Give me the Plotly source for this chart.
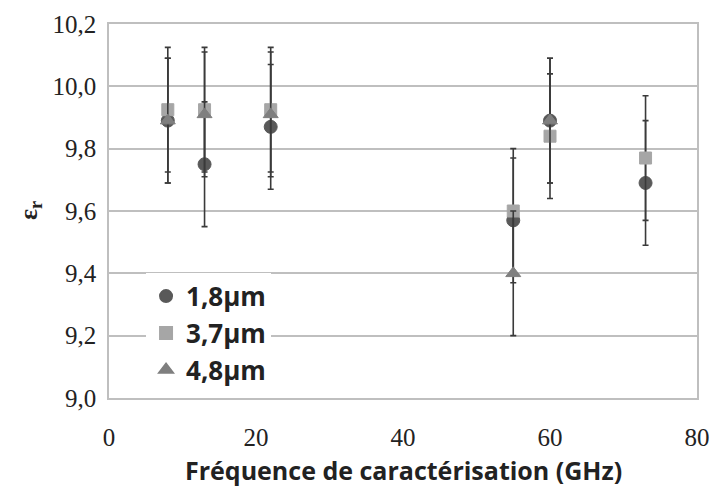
import plotly.graph_objects as go

freq = [8, 13, 22, 55, 60, 73]
eps_18 = [9.89, 9.75, 9.87, 9.57, 9.89, 9.69]
eps_37 = [9.925, 9.925, 9.925, 9.60, 9.84, 9.77]
eps_48 = [9.89, 9.91, 9.91, 9.40, 9.89, None]
err_18 = [0.2, 0.2, 0.2, 0.2, 0.2, 0.2]
err_37 = [0.2, 0.2, 0.2, 0.2, 0.2, 0.2]
err_48 = [0.2, 0.2, 0.2, 0.2, 0.2, 0.2]
names = ["1,8µm", "3,7µm", "4,8µm"]
y_ticks = [9.0, 9.2, 9.4, 9.6, 9.8, 10.0, 10.2]
y_tick_text = ["9,0", "9,2", "9,4", "9,6", "9,8", "10,0", "10,2"]
x_ticks = [0, 20, 40, 60, 80]
x_title = "Fréquence de caractérisation (GHz)"
y_title = "ε<sub>r</sub>"

fig = go.Figure()
series = [
    (eps_18, err_18, names[0], "circle", "#595959", 13),
    (eps_37, err_37, names[1], "square", "#a6a6a6", 12),
    (eps_48, err_48, names[2], "triangle-up", "#7f7f7f", 13),
]
for vals, err, name, sym, col, sz in series:
    fig.add_trace(go.Scatter(
        x=freq, y=vals, name=name, mode="markers",
        marker=dict(symbol=sym, color=col, size=sz, line=dict(color=col, width=1)),
        error_y=dict(type="data", array=err, visible=True, color="#3a3a3a",
                     thickness=1.6, width=3),
    ))

fig.update_layout(
    width=713, height=490,
    margin=dict(l=109, r=16, t=24, b=92),
    paper_bgcolor="white", plot_bgcolor="white",
    showlegend=True,
    legend=dict(
        x=0.063, y=0.335, xanchor="left", yanchor="top",
        bgcolor="white", borderwidth=0,
        font=dict(family="Open Sans", size=26, color="#222222", weight="bold"),
        tracegroupgap=0, itemsizing="constant",
    ),
    xaxis=dict(
        range=[0, 80], tickvals=x_ticks, showgrid=False, zeroline=False,
        showline=True, linecolor="#bfbfbf", linewidth=1.5, mirror=True,
        ticks="outside", ticklen=16, tickcolor="rgba(0,0,0,0)",
        ticklabeloverflow="allow", automargin=False,
        tickfont=dict(family="Liberation Serif", size=25, color="#222222"),
    ),
    yaxis=dict(
        range=[9.0, 10.2], tickvals=y_ticks, ticktext=y_tick_text,
        showgrid=True, gridcolor="#bfbfbf", gridwidth=1.5, zeroline=False,
        showline=True, linecolor="#bfbfbf", linewidth=1.5, mirror=True,
        ticks="outside", ticklen=6, tickcolor="rgba(0,0,0,0)",
        automargin=False,
        tickfont=dict(family="Liberation Serif", size=25, color="#222222"),
    ),
    annotations=[
        dict(text=x_title, xref="paper", yref="paper", x=0.5, y=0,
             xanchor="center", yanchor="middle", yshift=-72, showarrow=False,
             font=dict(family="Open Sans", size=25, color="#222222", weight="bold")),
        dict(text=y_title, xref="paper", yref="paper", x=0, y=0.5,
             xanchor="center", yanchor="middle", xshift=-79, showarrow=False,
             textangle=-90,
             font=dict(family="Liberation Serif", size=26, color="#222222", weight="bold")),
    ],
)

fig.write_html(
    "out.html",
    config={"displayModeBar": False},
    post_script="document.body.style.margin='0';document.body.style.overflow='hidden';",
)
